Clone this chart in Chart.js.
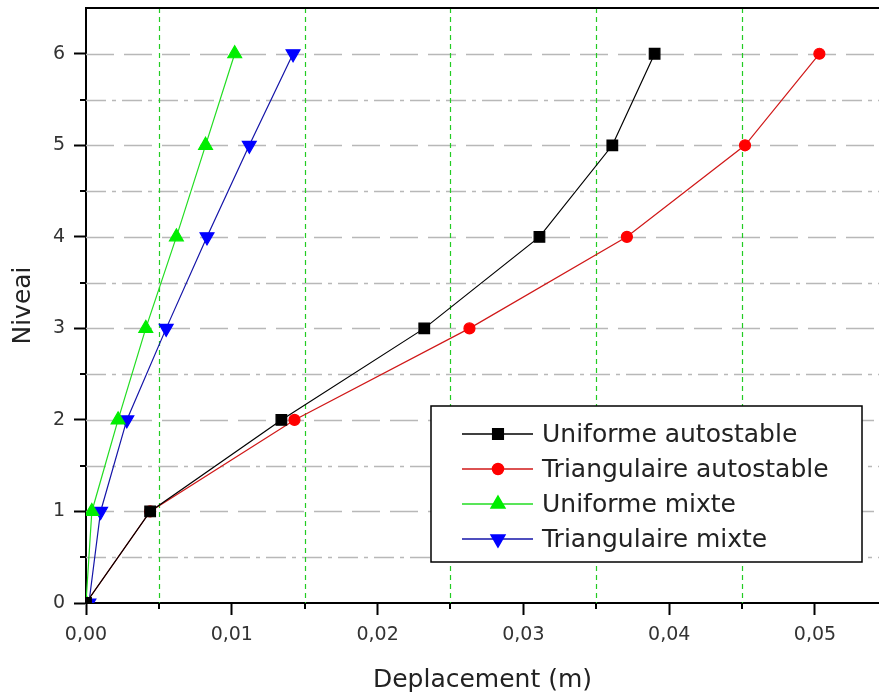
<!DOCTYPE html>
<html>
<head>
<meta charset="utf-8">
<script src="https://cdn.jsdelivr.net/npm/chart.js@4/dist/chart.umd.min.js"></script>
<style>
  html, body { margin: 0; padding: 0; background: #fff; }
  #wrap { width: 879px; height: 695px; }
</style>
</head>
<body>
<div id="wrap"><canvas id="chart" width="879" height="695"></canvas></div>
<script>
// data
const levels = [0, 1, 2, 3, 4, 5, 6];
const uniformeAutostable = [0, 0.0044, 0.0134, 0.0232, 0.0311, 0.0361, 0.0390];
const triangulaireAutostable = [0, 0.0044, 0.0143, 0.0263, 0.0371, 0.0452, 0.0503];
const uniformeMixte = [0, 0.0004, 0.0022, 0.0041, 0.0062, 0.0082, 0.0102];
const triangulaireMixte = [0.0002, 0.0010, 0.0028, 0.0055, 0.0083, 0.0112, 0.0142];
const seriesNames = ['Uniforme autostable', 'Triangulaire autostable', 'Uniforme mixte', 'Triangulaire mixte'];
const xMajorTicks = [0, 0.01, 0.02, 0.03, 0.04, 0.05];
const xMinorTicks = [0.005, 0.015, 0.025, 0.035, 0.045];
const yMajorTicks = [0, 1, 2, 3, 4, 5, 6];
const yMinorTicks = [0.5, 1.5, 2.5, 3.5, 4.5, 5.5];

const FONT = '"DejaVu Sans", sans-serif';

function points(xs) {
  return xs.map((x, i) => ({ x: x, y: levels[i] }));
}

// grid lines, minor ticks, top border
const gridPlugin = {
  id: 'originGrid',
  beforeDatasetsDraw(chart) {
    const { ctx, chartArea: a, scales: { x, y } } = chart;
    ctx.save();
    ctx.lineWidth = 1.5;
    ctx.strokeStyle = '#b8b8b8';
    yMajorTicks.forEach(v => {
      if (v === 0) return;
      const py = Math.round(y.getPixelForValue(v)) + 0.5;
      ctx.setLineDash([28, 10]);
      ctx.beginPath(); ctx.moveTo(a.left, py); ctx.lineTo(a.right, py); ctx.stroke();
    });
    yMinorTicks.forEach(v => {
      const py = Math.round(y.getPixelForValue(v)) + 0.5;
      ctx.setLineDash([20, 6, 4, 6]);
      ctx.beginPath(); ctx.moveTo(a.left, py); ctx.lineTo(a.right, py); ctx.stroke();
    });
    ctx.lineWidth = 1.2;
    ctx.strokeStyle = '#22cc22';
    ctx.setLineDash([5, 4]);
    xMinorTicks.forEach(v => {
      const px = Math.round(x.getPixelForValue(v)) + 0.5;
      ctx.beginPath(); ctx.moveTo(px, a.top); ctx.lineTo(px, a.bottom); ctx.stroke();
    });
    ctx.restore();
  },
  afterDraw(chart) {
    const { ctx, chartArea: a, scales: { x, y } } = chart;
    ctx.save();
    ctx.strokeStyle = '#000';
    ctx.lineWidth = 2;
    ctx.setLineDash([]);
    ctx.beginPath(); ctx.moveTo(a.left - 1, a.top); ctx.lineTo(a.right, a.top); ctx.stroke();
    yMinorTicks.forEach(v => {
      const py = Math.round(y.getPixelForValue(v));
      ctx.beginPath(); ctx.moveTo(a.left - 6, py); ctx.lineTo(a.left, py); ctx.stroke();
    });
    xMinorTicks.forEach(v => {
      const px = Math.round(x.getPixelForValue(v));
      ctx.beginPath(); ctx.moveTo(px, a.bottom); ctx.lineTo(px, a.bottom + 6); ctx.stroke();
    });
    ctx.restore();
  }
};

// legend box inside the plot
const boxLegend = {
  id: 'boxLegend',
  afterDraw(chart) {
    const ctx = chart.ctx;
    const left = 431, top = 406, w = 431, h = 156;
    ctx.save();
    ctx.fillStyle = '#fff';
    ctx.fillRect(left, top, w, h);
    ctx.strokeStyle = '#000';
    ctx.lineWidth = 1.5;
    ctx.strokeRect(left, top, w, h);
    ctx.font = '25px ' + FONT;
    ctx.textBaseline = 'middle';
    chart.data.datasets.forEach((ds, i) => {
      const cy = top + 28 + i * 35;
      ctx.strokeStyle = ds.borderColor;
      ctx.lineWidth = 1.5;
      ctx.beginPath(); ctx.moveTo(left + 31, cy); ctx.lineTo(left + 102, cy); ctx.stroke();
      ctx.fillStyle = ds.pointBackgroundColor;
      ctx.strokeStyle = ds.pointBackgroundColor;
      Chart.helpers.drawPoint(ctx, {
        pointStyle: ds.pointStyle, radius: ds.pointRadius, rotation: ds.pointRotation || 0, borderWidth: 1
      }, left + 67, cy);
      ctx.fillStyle = '#222';
      ctx.fillText(seriesNames[i], left + 111, cy + 1);
    });
    ctx.restore();
  }
};

const ctx = document.getElementById('chart').getContext('2d');
new Chart(ctx, {
  type: 'scatter',
  data: {
    datasets: [
      {
        label: seriesNames[0], data: points(uniformeAutostable), showLine: true,
        borderColor: '#000000', borderWidth: 1.2, pointStyle: 'rect', pointRadius: 7.5,
        pointBackgroundColor: '#000000', pointBorderColor: '#000000'
      },
      {
        label: seriesNames[1], data: points(triangulaireAutostable), showLine: true,
        borderColor: '#d01818', borderWidth: 1.2, pointStyle: 'circle', pointRadius: 5.5,
        pointBackgroundColor: '#ff0000', pointBorderColor: '#ff0000'
      },
      {
        label: seriesNames[2], data: points(uniformeMixte), showLine: true,
        borderColor: '#22dd22', borderWidth: 1.2, pointStyle: 'triangle', pointRadius: 8,
        pointBackgroundColor: '#00ee00', pointBorderColor: '#00ee00'
      },
      {
        label: seriesNames[3], data: points(triangulaireMixte), showLine: true,
        borderColor: '#1414a8', borderWidth: 1.2, pointStyle: 'triangle', pointRadius: 8,
        pointRotation: 180,
        pointBackgroundColor: '#0000ff', pointBorderColor: '#0000ff'
      }
    ]
  },
  options: {
    responsive: false,
    animation: false,
    layout: { autoPadding: false, padding: { left: 0, right: 0, top: 8, bottom: 0 } },
    plugins: { legend: { display: false }, tooltip: { enabled: false } },
    scales: {
      x: {
        type: 'linear', min: 0, max: 0.05439,
        afterBuildTicks(scale) { scale.ticks = xMajorTicks.map(v => ({ value: v })); },
        afterFit(scale) { scale.height = 92; scale.paddingLeft = 0; scale.paddingRight = 0; },
        border: { color: '#000', width: 2 },
        grid: { drawOnChartArea: false, drawTicks: true, tickLength: 12, color: '#000', tickWidth: 2 },
        ticks: {
          color: '#333', padding: 9, font: { size: 19, family: FONT },
          callback: v => v.toFixed(2).replace('.', ',')
        },
        title: {
          display: true, text: 'Deplacement (m)', color: '#222',
          font: { size: 25, family: FONT }, padding: { top: 10, bottom: 0 }
        }
      },
      y: {
        type: 'linear', min: 0, max: 6.5,
        afterBuildTicks(scale) { scale.ticks = yMajorTicks.map(v => ({ value: v })); },
        afterFit(scale) { scale.width = 86; scale.paddingTop = 0; scale.paddingBottom = 0; },
        border: { color: '#000', width: 2 },
        grid: { drawOnChartArea: false, drawTicks: true, tickLength: 12, color: '#000', tickWidth: 2 },
        ticks: {
          color: '#333', padding: 9, font: { size: 19, family: FONT }
        },
        title: {
          display: true, text: 'Niveai', color: '#222',
          font: { size: 25, family: FONT }, padding: { top: 8, bottom: 0 }
        }
      }
    }
  },
  plugins: [gridPlugin, boxLegend]
});
</script>
</body>
</html>
